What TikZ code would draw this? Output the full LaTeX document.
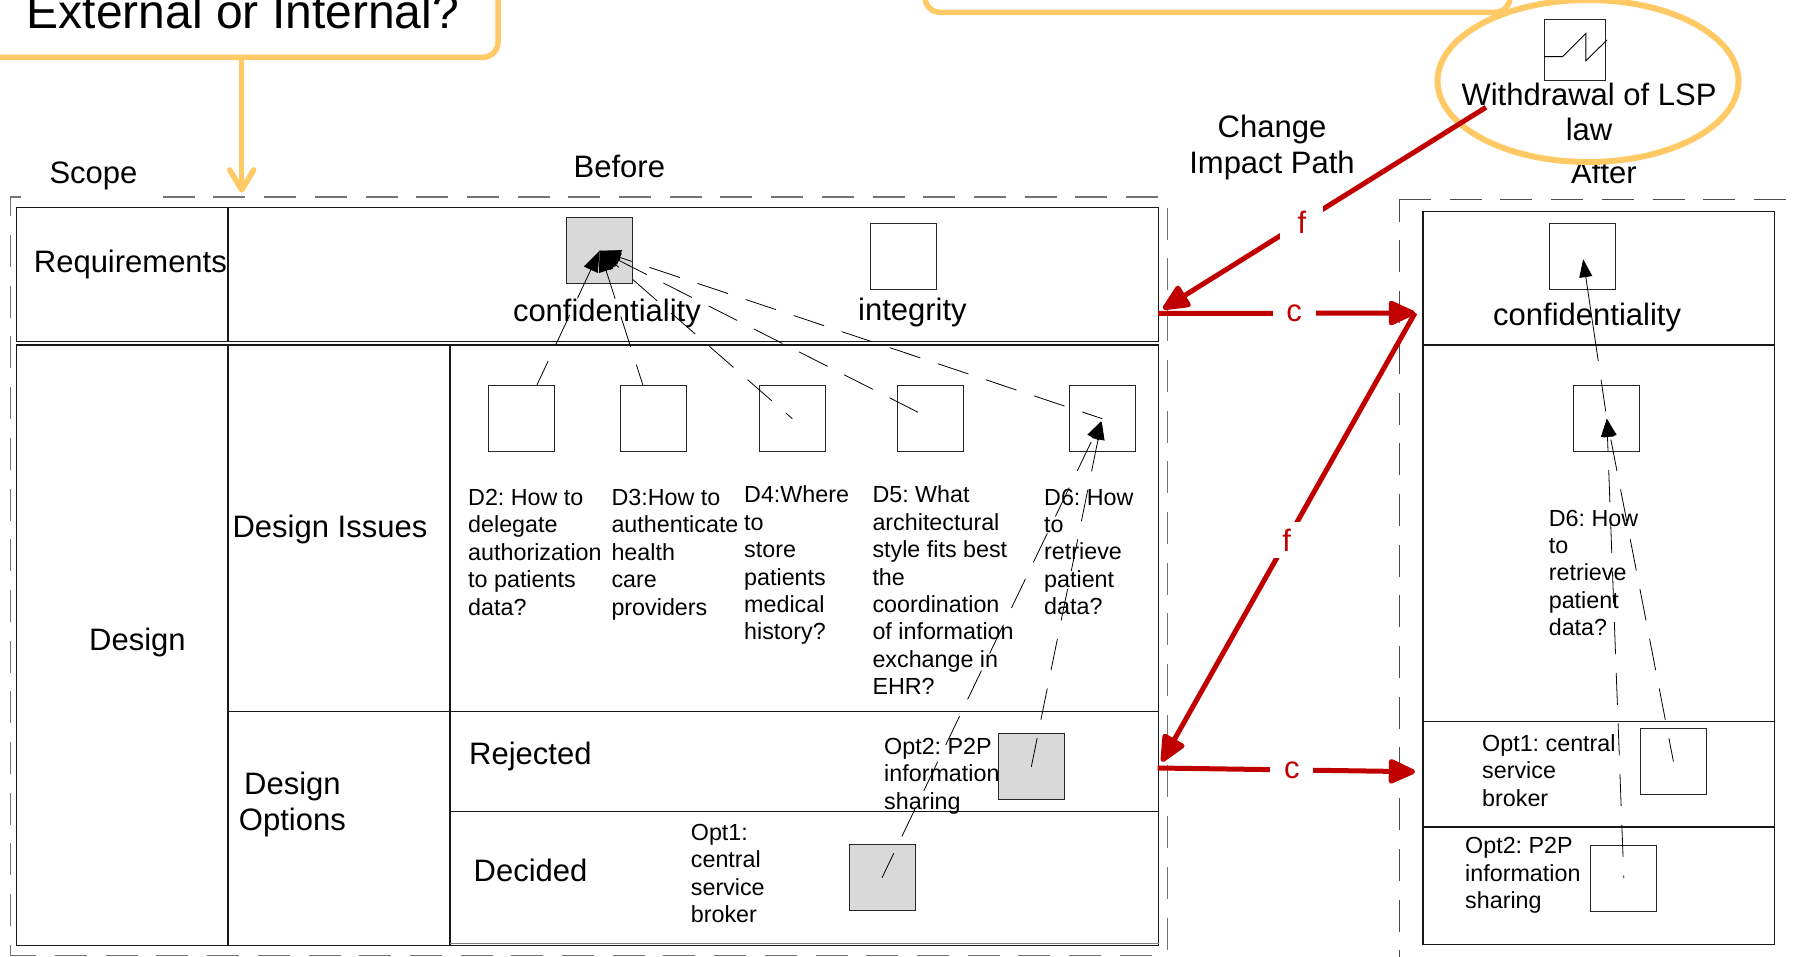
\documentclass[tikz,border=0pt]{standalone}
\usepackage{fontspec}
\setmainfont{Liberation Sans}
\usetikzlibrary{arrows.meta}
\pgfdeclarelayer{links}
\pgfdeclarelayer{top}
\pgfsetlayers{main,links,top}
\definecolor{amber}{HTML}{FFC966}
\definecolor{crimson}{HTML}{C00000}
\definecolor{greybox}{HTML}{D9D9D9}
\tikzset{
  sq/.style={draw=black!85,line width=1pt,inner sep=0pt,outer sep=0pt,minimum width=66pt,minimum height=66pt},
  sqgrey/.style={sq,fill=greybox},
  sqwhite/.style={sq,fill=white},
  grid/.style={draw=black!90,line width=1.2pt},
  framedash/.style={draw=black!55,line width=1.3pt,dash pattern=on 32pt off 18.7pt},
  framedashr/.style={draw=black!70,line width=1pt,dash pattern=on 32pt off 18.7pt},
  dep/.style={draw=black,line width=.8pt,dash pattern=on 32pt off 18.7pt,{Triangle[length=18pt,width=13pt]}-},
  depfan/.style={draw=black,line width=.8pt,dash pattern=on 32pt off 18.7pt,{Triangle[length=21pt,width=15pt]}-},
  big/.style={font=\frenchspacing\fontsize{31}{35.5}\selectfont,inner sep=0pt,anchor=base west},
  bigc/.style={font=\frenchspacing\fontsize{31}{35.5}\selectfont,inner sep=0pt,align=center,anchor=north,execute at begin node={\rule{0pt}{26pt}}},
  small/.style={font=\frenchspacing\fontsize{23.3}{27.4}\selectfont,inner sep=0pt,align=left,anchor=north west,execute at begin node={\rule{0pt}{20pt}}},
  redarrow/.style={draw=crimson,line width=5pt,-{Triangle[length=30pt,width=26pt,round]}},
  redlabel/.style={font=\fontsize{31}{35}\selectfont,text=crimson,fill=white,inner sep=0pt,minimum width=43pt,minimum height=36pt},
  amberline/.style={draw=amber,line width=5.5pt}
}
\begin{document}
\begin{tikzpicture}[x=1pt,y=-1pt]
\useasboundingbox (0,0) rectangle (1795,957);
\clip (0,0) rectangle (1795,957);
% yellow boxes
\node[amberline,rounded corners=15pt,inner sep=0pt,minimum width=528pt,minimum height=117.3pt] (extbox) at (234,-1.35) {};
\node[amberline,rounded corners=15pt,inner sep=0pt,minimum width=585pt,minimum height=72.3pt] (ctxbox) at (1217.5,-23.85) {};
\node[anchor=base west,font=\fontsize{48}{50}\selectfont,inner sep=0pt] (exttxt) at (26.5,28.3) {External or Internal?};
\coordinate (scopein) at (241.7,192.7);
\draw[amberline,line cap=round,-{Straight Barb[length=20pt,width=24pt,round]}] (extbox.south -| scopein) -- (scopein);
% left tables
\node[grid,inner sep=0,minimum width=1141.9pt,minimum height=134pt] (reqrow) at (587.75,274.7) {};
\node[grid,inner sep=0,minimum width=1141.9pt,minimum height=600.7pt] (desrow) at (587.75,645.35) {};
\coordinate (colA) at (228,0);
\coordinate (colB) at (450,0);
\coordinate (rowR) at (0,711.7);
\coordinate (rowD) at (0,811.7);
\draw[grid] (reqrow.north -| colA) -- (reqrow.south -| colA);
\draw[grid] (desrow.north -| colA) -- (desrow.south -| colA);
\draw[grid] (desrow.north -| colB) -- (desrow.south -| colB);
\draw[grid] (colA |- rowR) -- (desrow.east |- rowR);
\draw[grid] (colB |- rowD) -- (desrow.east |- rowD);
\draw[draw=black!50,line width=1pt] (450,943.6) -- (1158.7,943.6);
% right table
\node[grid,inner sep=0,minimum width=351.6pt,minimum height=733pt] (rtable) at (1598.8,578.2) {};
\draw[grid] (rtable.west |- 0,345) -- (rtable.east |- 0,345);
\draw[grid] (rtable.west |- 0,721.3) -- (rtable.east |- 0,721.3);
\draw[grid] (rtable.west |- 0,827) -- (rtable.east |- 0,827);
% dashed frames
\draw[framedash] (1158,197) -- (162,197);
\draw[framedash,dash phase=2pt] (21,197) -- (10.3,197) -- (10.3,955);
\draw[framedash] (1167.5,207.7) -- (1167.5,951);
\draw[framedash] (1151.7,955.7) -- (10.3,955.7);
\draw[framedashr] (1399,199.7) -- (1795,199.7);
\draw[framedashr,dash phase=10pt] (1399,199.7) -- (1399,957);
% squares
\node[sqgrey] (conf) at (599.7,250.7) {};
\node[sq] (integ) at (903.8,256.2) {};
\begin{pgfonlayer}{top}
\node[sqwhite] (d2) at (521.2,418.7) {};
\node[sqwhite] (d3) at (653.7,418.7) {};
\end{pgfonlayer}
\node[sq] (d4) at (792.3,418.7) {};
\node[sq] (d5) at (930.7,418.7) {};
\node[sq] (d6) at (1102.3,418.7) {};
\node[sqgrey] (optr) at (1031.3,766.8) {};
\node[sqgrey] (optd) at (882,877.8) {};
\node[sq] (rconf) at (1582.7,256.2) {};
\node[sq] (rd6) at (1606.8,418.7) {};
\node[sq] (ropt1) at (1673.4,761.5) {};
\node[sq] (ropt2) at (1623.8,878) {};
\node[sq,minimum width=61pt,minimum height=61pt] (lspbox) at (1574.8,49.8) {};
\draw[line width=.9pt] (1544.3,56.7) -- (1562.6,56.7) -- (1585.9,33.3) -- (1585.9,60.7) -- (1607,40);
% texts
\node[big] (tscope) at (49.3,183.7) {Scope};
\node[big] (tbefore) at (573.5,177.7) {Before};
\node[big] (treq) at (33.7,272.7) {Requirements};
\node[big] (tconf) at (512.8,322) {confidentiality};
\node[big] (tinteg) at (858,320.5) {integrity};
\node[big] (tissues) at (232.4,537) {Design Issues};
\node[big] (tdesign) at (89,650) {Design};
\node[bigc] (toptions) at (292.4,772) {Design\\Options};
\node[big] (trej) at (469,764.5) {Rejected};
\node[big] (tdec) at (473.5,881.6) {Decided};
\node[bigc] (tpath) at (1272,115.2) {Change\\Impact Path};
\node[big] (tafter) at (1571,183.7) {After};
\node[bigc] (tlsp) at (1589,82.5) {Withdrawal of LSP\\law};
\node[big] (trconf) at (1493,326) {confidentiality};
\node[small] (td2) at (468,489) {D2: How to\\delegate\\authorization\\to patients\\data?};
\node[small] (td3) at (611.3,489) {D3:How to\\authenticate\\health\\care\\providers};
\node[small] (td4) at (744,485.8) {D4:Where\\to\\store\\patients\\medical\\history?};
\node[small] (td5) at (872.3,485.8) {D5: What\\architectural\\style fits best\\the\\coordination\\of information\\exchange in\\EHR?};
\node[small] (td6) at (1044,488.7) {D6: How\\to\\retrieve\\patient\\data?};
\node[small] (topt2) at (884,738) {Opt2: P2P\\information\\sharing};
\node[small] (topt1) at (690.7,824) {Opt1:\\central\\service\\broker};
\node[small] (trd6) at (1548.6,509.7) {D6: How\\to\\retrieve\\patient\\data?};
\node[small] (tropt1) at (1482,734.4) {Opt1: central\\service\\broker};
\node[small] (tropt2) at (1465,837.4) {Opt2: P2P\\information\\sharing};
% ellipse
\draw[amberline,line width=6pt] (1588,81) ellipse [x radius=150.5pt,y radius=81pt];
% dependency connectors
\begin{pgfonlayer}{links}
\draw[depfan,dash phase=.4pt] (conf.center) -- (d2.center);
\draw[depfan,dash phase=2.4pt] (conf.center) -- (d3.center);
\draw[depfan,dash phase=27.3pt] (conf.center) -- (d4.center);
\draw[depfan,dash phase=0pt] (conf.center) -- (d5.center);
\draw[depfan,dash phase=19pt] (conf.center) -- (d6.center);
\draw[dep,dash phase=45.7pt,shorten <=3pt] (d6.center) -- (optd.center);
\draw[dep,dash phase=49.7pt,shorten <=3pt] (d6.center) -- (optr.center);
\draw[dep,dash pattern=on 85pt off 19pt on 32pt off 100pt,shorten <=3pt] (rconf.center) -- (rd6.center);
\draw[dep,dash phase=47.2pt] (rd6.center) -- (ropt1.center);
\draw[dep,dash phase=17pt] (rd6.center) -- (ropt2.center);
\end{pgfonlayer}
% red arrows
\coordinate (fstart) at (1486,107.3);
\coordinate (ltop) at (1163,309);
\coordinate (c1a) at (1158,313.5);
\coordinate (c1b) at (1415,313);
\coordinate (f2a) at (1415,313);
\coordinate (f2b) at (1161.8,761.7);
\coordinate (c2a) at (1157.6,768);
\coordinate (c2b) at (1415,771.7);
\begin{pgfonlayer}{top}
\draw[redarrow] (fstart) -- node[redlabel,pos=.57] (lf1) {f} (ltop);
\draw[redarrow] (c1a) -- node[redlabel,pos=.53] (lc1) {c} (c1b);
\draw[redarrow] (f2a) -- node[redlabel,pos=.507] (lf2) {f\hspace{6pt}} (f2b);
\draw[redarrow] (c2a) -- node[redlabel,pos=.522] (lc2) {c} (c2b);
\end{pgfonlayer}
\end{tikzpicture}
\end{document}
